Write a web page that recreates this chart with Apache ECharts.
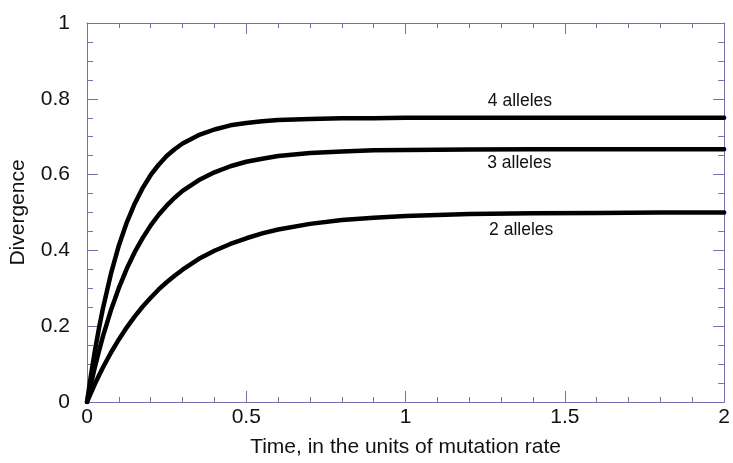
<!DOCTYPE html>
<html>
<head>
<meta charset="utf-8">
<script src="https://cdn.jsdelivr.net/npm/echarts@6/dist/echarts.min.js"></script>
<style>
  html, body { margin: 0; padding: 0; background: #fff; }
  #chart { width: 733px; height: 463px; }
</style>
</head>
<body>
<div id="chart"></div>
<script>
// Time values (units of mutation rate)
const tValues = [0, 0.0125, 0.025, 0.0375, 0.05, 0.075, 0.1, 0.125, 0.15, 0.175, 0.2, 0.225, 0.25, 0.275, 0.3, 0.35, 0.4, 0.45, 0.5, 0.55, 0.6, 0.7, 0.8, 0.9, 1.0, 1.2, 1.4, 1.6, 1.8, 2.0];
// Divergence
const alleles2 = [0, 0.024, 0.048, 0.070, 0.091, 0.130, 0.165, 0.197, 0.226, 0.252, 0.275, 0.297, 0.316, 0.333, 0.349, 0.377, 0.399, 0.417, 0.432, 0.445, 0.455, 0.470, 0.480, 0.486, 0.491, 0.496, 0.498, 0.499, 0.500, 0.500];
const alleles3 = [0, 0.048, 0.093, 0.134, 0.173, 0.242, 0.301, 0.352, 0.396, 0.433, 0.466, 0.494, 0.518, 0.539, 0.557, 0.585, 0.606, 0.622, 0.634, 0.642, 0.649, 0.657, 0.661, 0.664, 0.665, 0.666, 0.667, 0.667, 0.667, 0.667];
const alleles4 = [0, 0.071, 0.136, 0.194, 0.247, 0.338, 0.413, 0.474, 0.524, 0.565, 0.599, 0.626, 0.649, 0.667, 0.682, 0.704, 0.719, 0.730, 0.736, 0.741, 0.744, 0.747, 0.749, 0.749, 0.750, 0.750, 0.750, 0.750, 0.750, 0.750];
// Curve labels
const labelTexts = ['4 alleles', '3 alleles', '2 alleles'];
const labelT = [1.359, 1.357, 1.363];
const labelV = [0.793, 0.629, 0.454];
const xAxisName = 'Time, in the units of mutation rate';
const yAxisName = 'Divergence';

const axisColor = '#7272ae';
const textColor = '#111';
const fontFamily = '"Liberation Sans", Arial, Helvetica, sans-serif';

function pairs(xs, ys) { return xs.map((x, i) => [x, ys[i]]); }

function xAxisCfg(pos, showLabels) {
  return {
    type: 'value', position: pos, min: 0, max: 2, interval: 0.5,
    name: showLabels ? xAxisName : '',
    nameLocation: 'middle', nameGap: 35,
    nameTextStyle: { fontSize: 21, color: textColor, fontFamily: fontFamily },
    axisLine: { show: true, onZero: false, lineStyle: { color: axisColor, width: 1 } },
    axisTick: { show: true, inside: true, length: 11, lineStyle: { color: axisColor } },
    minorTick: { show: true, splitNumber: 5, length: 5, lineStyle: { color: axisColor } },
    axisLabel: { show: showLabels, margin: 5, fontSize: 21, color: textColor, fontFamily: fontFamily, showMaxLabel: true, showMinLabel: true },
    splitLine: { show: false }, minorSplitLine: { show: false }
  };
}
function yAxisCfg(pos, showLabels) {
  return {
    type: 'value', position: pos, min: 0, max: 1, interval: 0.2,
    name: showLabels ? yAxisName : '',
    nameLocation: 'middle', nameGap: 58, nameRotate: 90,
    nameTextStyle: { fontSize: 21, color: textColor, fontFamily: fontFamily },
    axisLine: { show: true, onZero: false, lineStyle: { color: axisColor, width: 1 } },
    axisTick: { show: true, inside: true, length: 11, lineStyle: { color: axisColor } },
    minorTick: { show: true, splitNumber: 4, length: 6, lineStyle: { color: axisColor } },
    axisLabel: { show: showLabels, margin: 17, fontSize: 21, color: textColor, fontFamily: fontFamily },
    splitLine: { show: false }, minorSplitLine: { show: false }
  };
}

function lineSeries(name, ys) {
  return {
    name: name, type: 'line', data: pairs(tValues, ys),
    xAxisIndex: 0, yAxisIndex: 0,
    showSymbol: false, symbol: 'none', smooth: false,
    lineStyle: { color: '#000', width: 4.5, join: 'round', cap: 'round' }, clip: true, animation: false
  };
}

const chart = echarts.init(document.getElementById('chart'), null, { renderer: 'canvas' });
chart.setOption({
  animation: false,
  backgroundColor: '#fff',
  grid: { left: 87, right: 2, top: 23, bottom: 52, containLabel: false },
  xAxis: [xAxisCfg('bottom', true), xAxisCfg('top', false)],
  yAxis: [yAxisCfg('left', true), yAxisCfg('right', false)],
  series: [
    lineSeries('2 alleles', alleles2),
    lineSeries('3 alleles', alleles3),
    lineSeries('4 alleles', alleles4),
    {
      name: 'labels', type: 'scatter', symbolSize: 0,
      xAxisIndex: 0, yAxisIndex: 0,
      itemStyle: { opacity: 1 },
      data: labelTexts.map((txt, i) => [labelT[i], labelV[i], txt]),
      label: {
        show: true, position: 'inside', opacity: 1,
        formatter: p => p.data[2],
        fontSize: 17.5, color: textColor, fontFamily: fontFamily,
        textBorderWidth: 0
      },
      silent: true, animation: false
    }
  ]
});
</script>
</body>
</html>
